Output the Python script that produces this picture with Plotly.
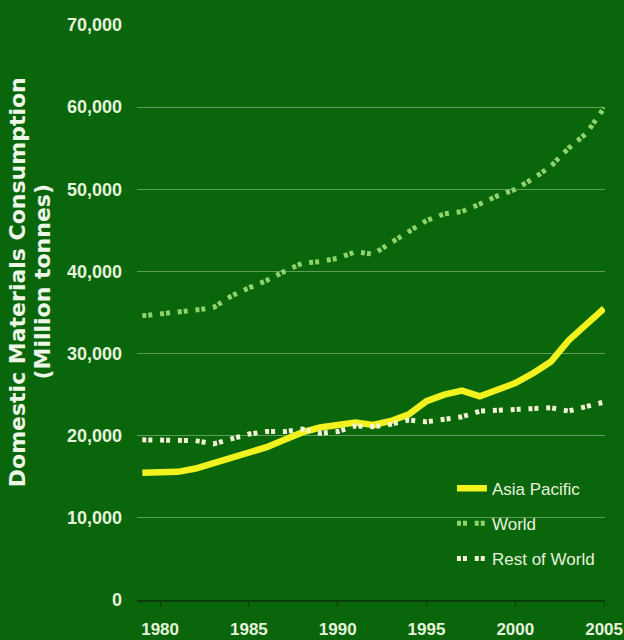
import plotly.graph_objects as go

years = list(range(1979, 2006))
asia_pacific = [15500, 15500, 15600, 16000, 16600, 17200, 17900, 18600, 19500, 20400,
                21000, 21400, 21600, 21300, 21800, 22600, 24200, 25000, 25500, 24800,
                25500, 26400, 27600, 29000, 31600, 33600, 35500]
world = [34600, 34800, 35000, 35300, 35600, 37000, 38000, 38900, 40000, 41000,
         41200, 41600, 42400, 42100, 43500, 44800, 46200, 47000, 47300, 48200,
         49200, 50000, 51300, 52800, 55000, 56800, 59900]
rest_of_world = [19500, 19500, 19500, 19400, 19000, 19600, 20200, 20500, 20500, 20800,
                 20300, 20500, 21200, 21100, 21400, 21900, 21700, 22000, 22300, 23000,
                 23100, 23200, 23400, 23400, 23000, 23500, 24100]
x_ticks = [1980, 1985, 1990, 1995, 2000, 2005]
y_ticks = [0, 10000, 20000, 30000, 40000, 50000, 60000, 70000]
y_title_1 = "Domestic Materials Consumption"
y_title_2 = "(Million tonnes)"

BG = "#0a660a"
TICKFONT = "Liberation Sans, Arial, sans-serif"
LABEL = "#e6f3dc"

fig = go.Figure()
fig.add_trace(go.Scatter(x=years, y=asia_pacific, name="Asia Pacific", mode="lines",
                         legendgroup="a",
                         line=dict(color="#f2f21e", width=6.5)))
fig.add_trace(go.Scatter(x=years, y=world, name="World", mode="lines",
                         legendgroup="b",
                         line=dict(color="#8fd36b", width=5, dash="4px,2px,4px,7.8px")))
fig.add_trace(go.Scatter(x=years, y=rest_of_world, name="Rest of World", mode="lines",
                         legendgroup="c",
                         line=dict(color="#f3f3d6", width=5, dash="4px,2px,4px,7.8px")))

fig.update_layout(
    width=624, height=640,
    margin=dict(l=137, r=19, t=25, b=40, autoexpand=False),
    paper_bgcolor=BG, plot_bgcolor=BG,
    showlegend=True,
    legend=dict(x=0.673, y=0.225, xanchor="left", yanchor="top",
                bgcolor="rgba(0,0,0,0)", traceorder="grouped", tracegroupgap=10,
                font=dict(family=TICKFONT, size=17, color=LABEL)),
    xaxis=dict(range=[1978.7, 2005.05], tickmode="array", tickvals=x_ticks,
               ticktext=[str(v) for v in x_ticks], automargin=False,
               showgrid=False, zeroline=False,
               showline=True, linecolor="#0b3d0b", linewidth=2,
               ticks="outside", ticklen=5, tickcolor="#0b3d0b",
               ticklabelstandoff=8, ticklabeloverflow="allow",
               tickfont=dict(family=TICKFONT, size=17, color=LABEL, weight="bold")),
    yaxis=dict(range=[0, 70000], tickmode="array", tickvals=y_ticks,
               ticktext=[f"{v:,}" for v in y_ticks], automargin=False,
               showgrid=True, gridcolor="#5f9e5a", gridwidth=1,
               zeroline=False, showline=False,
               ticklabelstandoff=14,
               tickfont=dict(family=TICKFONT, size=18, color=LABEL, weight="bold")),
    annotations=[
        dict(text=y_title_1, xref="paper", yref="paper", x=-0.256, y=0.553,
             xanchor="center", yanchor="middle", textangle=-90, showarrow=False,
             font=dict(family="DejaVu Sans", size=22, color="#eef6e8", weight="bold")),
        dict(text=y_title_2, xref="paper", yref="paper", x=-0.204, y=0.553,
             xanchor="center", yanchor="middle", textangle=-90, showarrow=False,
             font=dict(family="DejaVu Sans", size=22, color="#eef6e8", weight="bold")),
    ],
)

fig.write_html(
    "out.html",
    config={"displayModeBar": False},
    post_script="document.body.style.margin='0';document.body.style.overflow='hidden';",
)
